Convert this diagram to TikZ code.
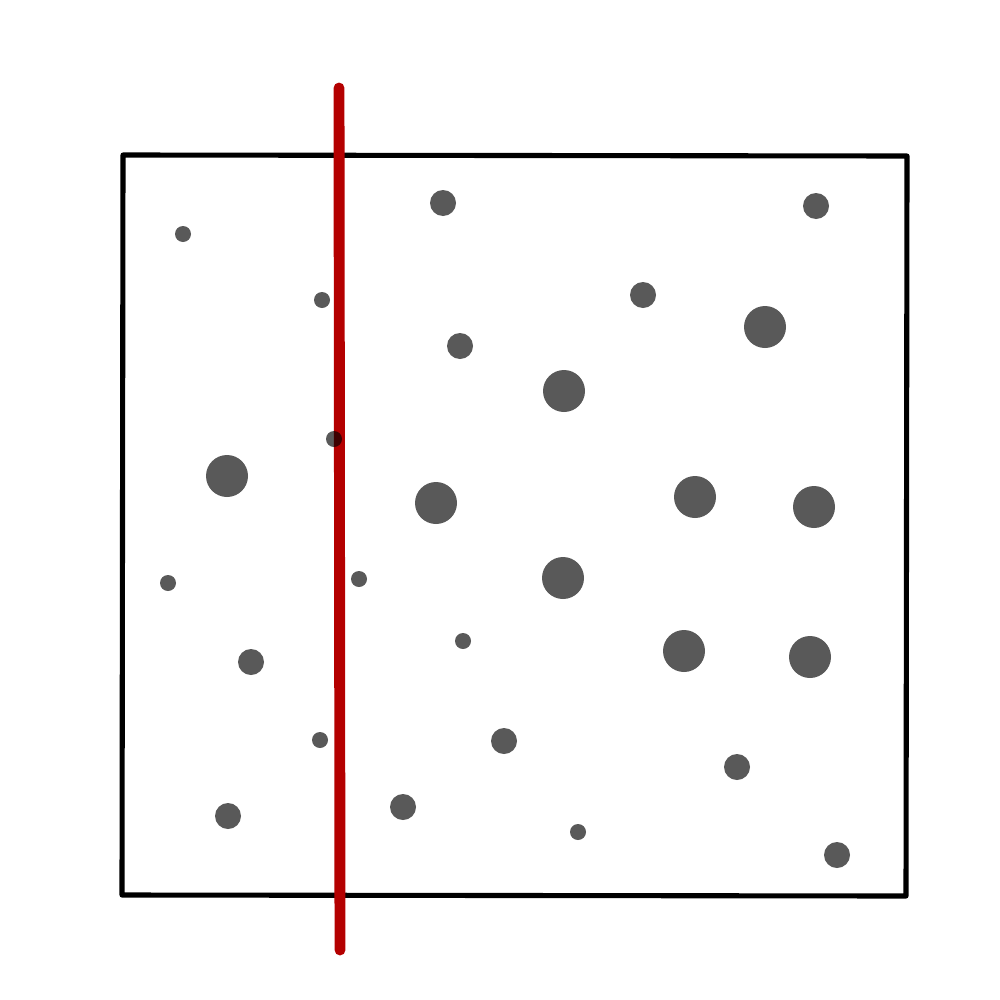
\documentclass[tikz,border=0pt]{standalone}
\begin{document}
\begin{tikzpicture}[x=0.01cm,y=-0.01cm]
  \tikzset{frame/.style={draw=black,line width=1.45pt,line join=round},
    cut/.style={draw={rgb,255:red,180;green,0;blue,0},line width=3.1pt,line cap=round},
    dot/.style={fill=black,fill opacity=0.65}}
  \useasboundingbox (0,0) rectangle (1000,1000);
  \draw[frame] (123,155) -- (907,156) -- (906,896) -- (122,895) -- cycle;
  \draw[cut] (339,88) -- (340,950);
  \foreach \x/\y/\r in {183/234/8, 443/203/13, 816/206/13, 322/300/8, 643/295/13,
    765/327/21, 460/346/13, 564/391/21, 334/439/8, 227/476/21, 436/503/21,
    695/497/21, 814/507/21, 168/583/8, 359/579/8, 563/578/21, 463/641/8,
    251/662/13, 684/651/21, 810/657/21, 320/740/8, 504/741/13, 737/767/13,
    228/816/13, 403/807/13, 578/832/8, 837/855/13}
    \fill[dot] (\x,\y) circle[radius=\r];
\end{tikzpicture}
\end{document}
